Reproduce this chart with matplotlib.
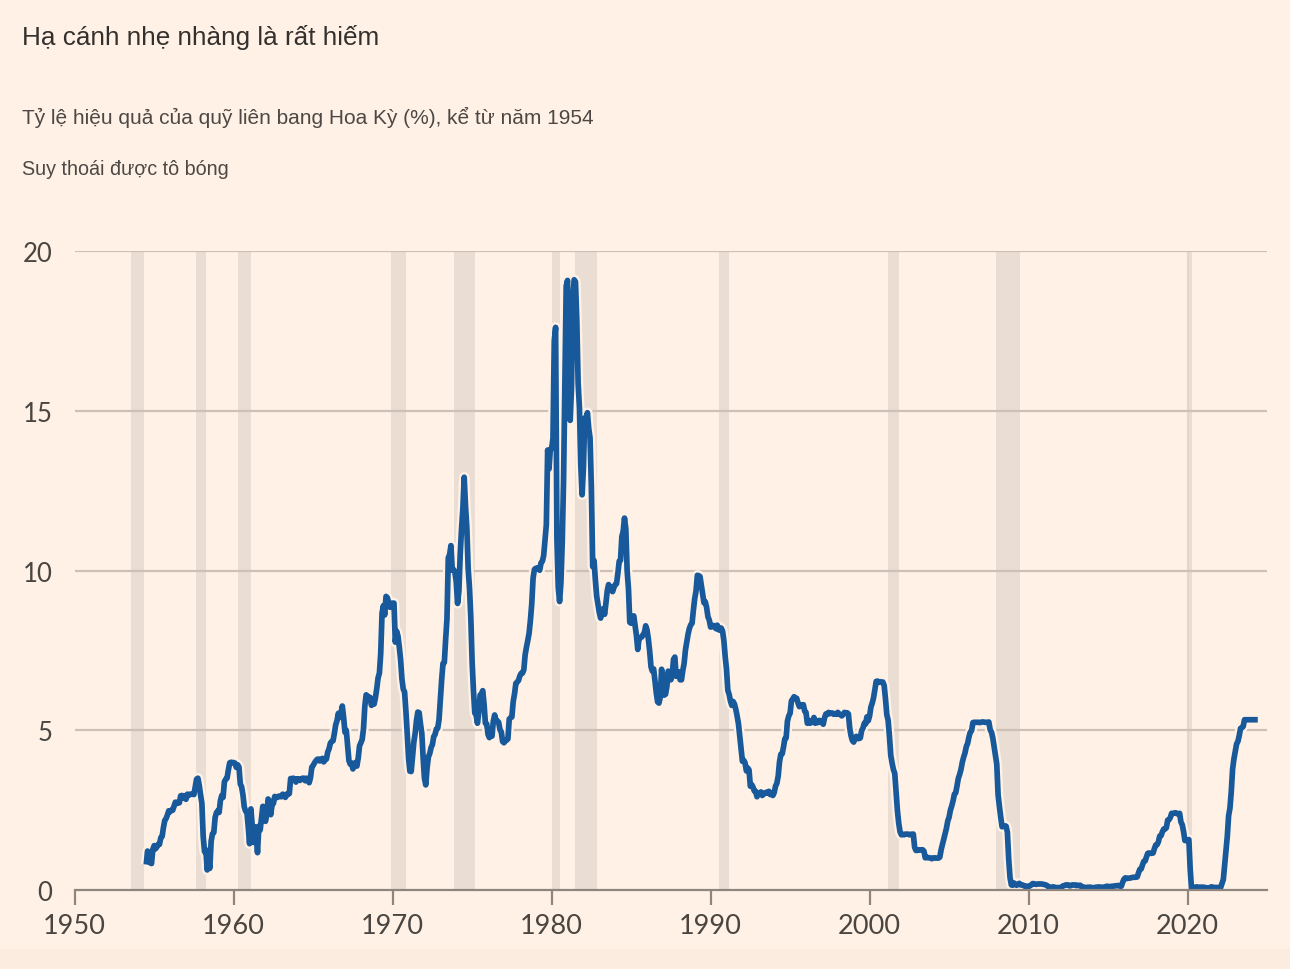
import numpy as np
import matplotlib
matplotlib.use("Agg")
from matplotlib import pyplot as plt
import matplotlib.patheffects as pe

# effective federal funds rate, monthly, starting July 1954
start_year = 1954 + 6 / 12
fed_funds = [
    0.80, 1.22, 1.07, 0.85, 0.83, 1.28,
    1.39, 1.29, 1.35, 1.43, 1.43, 1.64, 1.68, 1.96, 2.18, 2.24, 2.35, 2.48,  # 1955
    2.45, 2.50, 2.50, 2.62, 2.75, 2.71, 2.75, 2.73, 2.95, 2.96, 2.88, 2.94,  # 1956
    2.84, 3.00, 2.96, 3.00, 3.00, 3.00, 2.99, 3.24, 3.47, 3.50, 3.28, 2.98,  # 1957
    2.72, 1.67, 1.20, 1.26, 0.63, 0.93, 0.68, 1.53, 1.76, 1.80, 2.27, 2.42,  # 1958
    2.48, 2.43, 2.80, 2.96, 2.90, 3.39, 3.47, 3.50, 3.76, 3.98, 4.00, 3.99,  # 1959
    3.99, 3.97, 3.84, 3.92, 3.85, 3.32, 3.23, 2.98, 2.60, 2.47, 2.44, 1.98,  # 1960
    1.45, 2.54, 2.02, 1.49, 1.98, 1.73, 1.17, 2.00, 1.88, 2.26, 2.62, 2.33,  # 1961
    2.15, 2.37, 2.85, 2.78, 2.36, 2.68, 2.71, 2.93, 2.90, 2.90, 2.94, 2.93,  # 1962
    2.92, 3.00, 2.98, 2.90, 3.00, 2.99, 3.02, 3.49, 3.48, 3.50, 3.48, 3.38,  # 1963
    3.48, 3.48, 3.43, 3.47, 3.50, 3.50, 3.42, 3.50, 3.45, 3.36, 3.52, 3.85,  # 1964
    3.90, 3.98, 4.04, 4.09, 4.10, 4.04, 4.09, 4.12, 4.01, 4.08, 4.10, 4.32,  # 1965
    4.42, 4.60, 4.65, 4.67, 4.90, 5.17, 5.30, 5.53, 5.40, 5.53, 5.76, 5.40,  # 1966
    4.94, 5.00, 4.53, 4.05, 3.94, 3.98, 3.79, 3.90, 3.99, 3.88, 4.13, 4.51,  # 1967
    4.61, 4.71, 5.05, 5.76, 6.11, 6.07, 6.02, 6.03, 5.78, 5.91, 5.82, 6.02,  # 1968
    6.30, 6.64, 6.79, 7.41, 8.67, 8.90, 8.61, 9.19, 9.15, 9.00, 8.85, 8.97,  # 1969
    8.98, 8.98, 7.76, 8.10, 7.95, 7.61, 7.21, 6.61, 6.29, 6.20, 5.60, 4.90,  # 1970
    4.14, 3.72, 3.71, 4.16, 4.63, 4.91, 5.31, 5.57, 5.55, 5.20, 4.91, 4.14,  # 1971
    3.50, 3.29, 3.83, 4.17, 4.27, 4.46, 4.55, 4.80, 4.87, 5.04, 5.06, 5.33,  # 1972
    5.94, 6.58, 7.09, 7.12, 7.84, 8.49, 10.40, 10.50, 10.78, 10.01, 10.03, 9.95,  # 1973
    9.65, 8.97, 9.35, 10.51, 11.31, 11.93, 12.92, 12.01, 11.34, 10.06, 9.45, 8.53,  # 1974
    7.13, 6.24, 5.54, 5.49, 5.22, 5.55, 6.10, 6.14, 6.24, 5.82, 5.22, 5.20,  # 1975
    4.87, 4.77, 4.84, 4.82, 5.29, 5.48, 5.31, 5.29, 5.25, 5.02, 4.95, 4.65,  # 1976
    4.61, 4.68, 4.69, 4.73, 5.35, 5.39, 5.42, 5.90, 6.14, 6.47, 6.51, 6.56,  # 1977
    6.70, 6.78, 6.79, 6.89, 7.36, 7.60, 7.81, 8.04, 8.45, 8.96, 9.76, 10.03,  # 1978
    10.07, 10.06, 10.09, 10.01, 10.24, 10.29, 10.47, 10.94, 11.43, 13.77, 13.18, 13.78,  # 1979
    13.82, 14.13, 17.19, 17.61, 10.98, 9.47, 9.03, 9.61, 10.87, 12.81, 15.85, 18.90,  # 1980
    19.08, 15.93, 14.70, 15.72, 18.52, 19.10, 19.04, 17.82, 15.87, 15.08, 13.31, 12.37,  # 1981
    13.22, 14.78, 14.68, 14.94, 14.45, 14.15, 12.59, 10.12, 10.31, 9.71, 9.20, 8.95,  # 1982
    8.68, 8.51, 8.77, 8.80, 8.63, 8.98, 9.37, 9.56, 9.45, 9.48, 9.34, 9.47,  # 1983
    9.56, 9.59, 9.91, 10.29, 10.32, 11.06, 11.23, 11.64, 11.30, 9.99, 9.43, 8.38,  # 1984
    8.35, 8.50, 8.58, 8.27, 7.97, 7.53, 7.88, 7.90, 7.92, 7.99, 8.05, 8.27,  # 1985
    8.14, 7.86, 7.48, 6.99, 6.85, 6.92, 6.56, 6.17, 5.89, 5.85, 6.04, 6.91,  # 1986
    6.43, 6.10, 6.13, 6.37, 6.85, 6.73, 6.58, 6.73, 7.22, 7.29, 6.69, 6.77,  # 1987
    6.83, 6.58, 6.58, 6.87, 7.09, 7.51, 7.75, 8.01, 8.19, 8.30, 8.35, 8.76,  # 1988
    9.12, 9.36, 9.85, 9.84, 9.81, 9.53, 9.24, 8.99, 9.02, 8.84, 8.55, 8.45,  # 1989
    8.23, 8.24, 8.28, 8.26, 8.18, 8.29, 8.15, 8.13, 8.20, 8.11, 7.81, 7.31,  # 1990
    6.91, 6.25, 6.12, 5.91, 5.78, 5.90, 5.82, 5.66, 5.45, 5.21, 4.81, 4.43,  # 1991
    4.03, 4.06, 3.98, 3.73, 3.82, 3.76, 3.25, 3.30, 3.22, 3.10, 3.09, 2.92,  # 1992
    3.02, 3.03, 3.07, 2.96, 3.00, 3.04, 3.06, 3.03, 3.09, 2.99, 3.02, 2.96,  # 1993
    3.05, 3.25, 3.34, 3.56, 4.01, 4.25, 4.26, 4.47, 4.73, 4.76, 5.29, 5.45,  # 1994
    5.53, 5.92, 5.98, 6.05, 6.01, 6.00, 5.85, 5.74, 5.80, 5.76, 5.80, 5.60,  # 1995
    5.56, 5.22, 5.31, 5.22, 5.24, 5.27, 5.40, 5.22, 5.30, 5.24, 5.31, 5.29,  # 1996
    5.25, 5.19, 5.39, 5.51, 5.50, 5.56, 5.52, 5.54, 5.54, 5.50, 5.52, 5.50,  # 1997
    5.56, 5.51, 5.49, 5.45, 5.49, 5.56, 5.54, 5.55, 5.51, 5.07, 4.83, 4.68,  # 1998
    4.63, 4.76, 4.81, 4.74, 4.74, 4.76, 4.99, 5.07, 5.22, 5.20, 5.42, 5.30,  # 1999
    5.45, 5.73, 5.85, 6.02, 6.27, 6.53, 6.54, 6.50, 6.52, 6.51, 6.51, 6.40,  # 2000
    5.98, 5.49, 5.31, 4.80, 4.21, 3.97, 3.77, 3.65, 3.07, 2.49, 2.09, 1.82,  # 2001
    1.73, 1.74, 1.73, 1.75, 1.75, 1.75, 1.73, 1.74, 1.75, 1.75, 1.34, 1.24,  # 2002
    1.24, 1.26, 1.25, 1.26, 1.26, 1.22, 1.01, 1.03, 1.01, 1.01, 1.00, 0.98,  # 2003
    1.00, 1.01, 1.00, 1.00, 1.00, 1.03, 1.26, 1.43, 1.61, 1.76, 1.93, 2.16,  # 2004
    2.28, 2.50, 2.63, 2.79, 3.00, 3.04, 3.26, 3.50, 3.62, 3.78, 4.00, 4.16,  # 2005
    4.29, 4.49, 4.59, 4.79, 4.94, 4.99, 5.24, 5.25, 5.25, 5.25, 5.25, 5.24,  # 2006
    5.25, 5.26, 5.26, 5.25, 5.25, 5.25, 5.26, 5.02, 4.94, 4.76, 4.49, 4.24,  # 2007
    3.94, 2.98, 2.61, 2.28, 1.98, 2.00, 2.01, 2.00, 1.81, 0.97, 0.39, 0.16,  # 2008
    0.15, 0.22, 0.18, 0.15, 0.18, 0.21, 0.16, 0.16, 0.15, 0.12, 0.12, 0.12,  # 2009
    0.11, 0.13, 0.16, 0.20, 0.20, 0.18, 0.18, 0.19, 0.19, 0.19, 0.19, 0.18,  # 2010
    0.17, 0.16, 0.14, 0.10, 0.09, 0.09, 0.07, 0.10, 0.08, 0.07, 0.08, 0.07,  # 2011
    0.08, 0.10, 0.13, 0.14, 0.16, 0.16, 0.16, 0.13, 0.14, 0.16, 0.16, 0.16,  # 2012
    0.14, 0.15, 0.14, 0.15, 0.11, 0.09, 0.09, 0.08, 0.08, 0.09, 0.08, 0.09,  # 2013
    0.07, 0.07, 0.08, 0.09, 0.09, 0.10, 0.09, 0.09, 0.09, 0.09, 0.09, 0.12,  # 2014
    0.11, 0.11, 0.11, 0.12, 0.12, 0.13, 0.13, 0.14, 0.14, 0.12, 0.12, 0.24,  # 2015
    0.34, 0.38, 0.36, 0.37, 0.37, 0.38, 0.39, 0.40, 0.40, 0.40, 0.41, 0.54,  # 2016
    0.65, 0.66, 0.79, 0.90, 0.91, 1.04, 1.15, 1.16, 1.15, 1.15, 1.16, 1.30,  # 2017
    1.41, 1.42, 1.51, 1.69, 1.70, 1.82, 1.91, 1.91, 1.95, 2.19, 2.20, 2.27,  # 2018
    2.40, 2.40, 2.41, 2.42, 2.39, 2.38, 2.40, 2.13, 2.04, 1.83, 1.55, 1.55,  # 2019
    1.55, 1.58, 0.65, 0.05, 0.05, 0.08, 0.09, 0.10, 0.09, 0.09, 0.09, 0.09,  # 2020
    0.09, 0.08, 0.07, 0.07, 0.06, 0.08, 0.10, 0.09, 0.08, 0.08, 0.08, 0.08,  # 2021
    0.08, 0.08, 0.20, 0.33, 0.77, 1.21, 1.68, 2.33, 2.56, 3.08, 3.78, 4.10,  # 2022
    4.33, 4.57, 4.65, 4.83, 5.06, 5.08, 5.12, 5.33, 5.33, 5.33, 5.33, 5.33,  # 2023
    5.33, 5.33, 5.33, 5.33, 5.33, 5.33,  # 2024
]

# NBER recessions (decimal years)
recession_start = [1953.54, 1957.62, 1960.29, 1969.92, 1973.83, 1980.0, 1981.5, 1990.5, 2001.17, 2007.92, 2020.08]
recession_end = [1954.37, 1958.29, 1961.08, 1970.87, 1975.2, 1980.5, 1982.87, 1991.17, 2001.85, 2009.45, 2020.3]

x_ticks = [1950, 1960, 1970, 1980, 1990, 2000, 2010, 2020]
y_ticks = [0, 5, 10, 15, 20]

title = "Hạ cánh nhẹ nhàng là rất hiếm"
subtitle = "Tỷ lệ hiệu quả của quỹ liên bang Hoa Kỳ (%), kể từ năm 1954"
note = "Suy thoái được tô bóng"

bg = "#FFF1E5"
line_col = "#17599A"

dates = start_year + np.arange(len(fed_funds)) / 12

fig = plt.figure(figsize=(12.9, 9.7), dpi=100, facecolor=bg)

# faint darker band along the bottom edge
fig.patches.append(plt.Rectangle((0, 0), 1, 20 / 970, transform=fig.transFigure,
                                 color="#FBECDF", lw=0, zorder=-1))

ax = fig.add_axes([0.0579, 0.0814, 0.9243, 0.6588])
ax.set_facecolor(bg)

for s, e in zip(recession_start, recession_end):
    ax.axvspan(s, e, color="#E9DDD4", lw=0, zorder=0)

for y in y_ticks[1:]:
    ax.axhline(y, color="#CDC1B7", lw=1.6, zorder=1)
ax.axvline(2020, color="#E3D7CD", lw=1.5, zorder=0.5)

ax.plot(dates, fed_funds, color=line_col, lw=4.1, zorder=3,
        solid_joinstyle="round", solid_capstyle="butt",
        path_effects=[pe.Stroke(linewidth=7.5, foreground=bg), pe.Normal()])

ax.set_xlim(1950, 2025)
ax.set_ylim(0, 20)
for side in ["top", "right", "left"]:
    ax.spines[side].set_visible(False)
ax.spines["bottom"].set_color("#8F857E")
ax.spines["bottom"].set_linewidth(1.6)
ax.spines["bottom"].set_zorder(4)

ax.set_xticks(x_ticks)
ax.set_yticks(y_ticks)
ax.tick_params(axis="x", length=10.5, width=1.6, color="#8F857E", pad=6,
               labelsize=19.5, labelcolor="#4A4541")
ax.tick_params(axis="y", length=0, pad=16, labelsize=18.5, labelcolor="#4A4541")
for lab in ax.get_xticklabels() + ax.get_yticklabels():
    lab.set_fontfamily("Lato")

fig.text(22 / 1290, 1 - 45 / 970, title, fontsize=18.8, color="#33302E",
         family="Liberation Sans", va="baseline")
fig.text(22 / 1290, 1 - 124 / 970, subtitle, fontsize=15, color="#4D4845",
         family="Liberation Sans", va="baseline")
fig.text(22 / 1290, 1 - 175 / 970, note, fontsize=14.2, color="#4D4845",
         family="Liberation Sans", va="baseline")

fig.savefig("out.png", dpi=100, facecolor=bg)
